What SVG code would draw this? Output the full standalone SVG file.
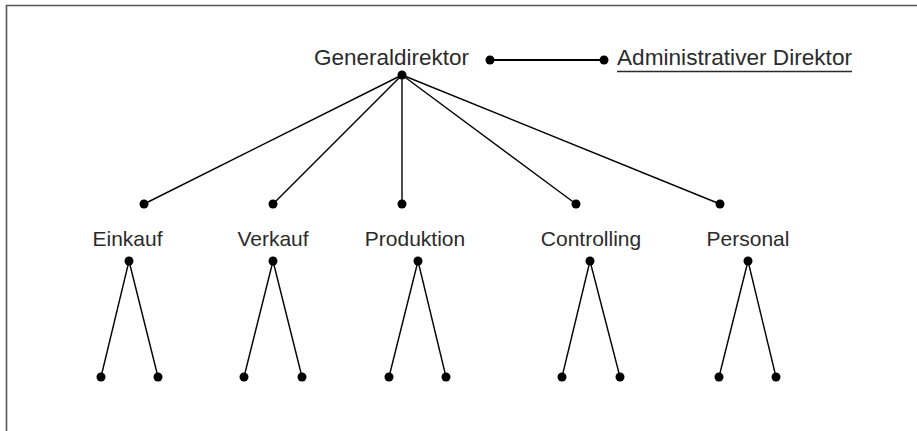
<svg xmlns="http://www.w3.org/2000/svg" width="917" height="431" viewBox="0 0 917 431">
<style>
.t{font-family:"Liberation Sans",Arial,sans-serif;font-size:22px;fill:#2b2b2b;text-anchor:middle}
.s{font-size:21px}
.c line{stroke:#000;stroke-width:1.4}
circle{fill:#000}
</style>
<rect width="917" height="431" fill="#fff"/>
<path d="M6.5 431V5.5H917" fill="none" stroke="#555" stroke-width="1.6"/>
<g id="connectors" class="c">
<line x1="490" y1="60" x2="604" y2="60" style="stroke-width:2"/>
<line x1="402" y1="75" x2="144" y2="204"/>
<line x1="402" y1="75" x2="273" y2="204"/>
<line x1="402" y1="75" x2="402" y2="204"/>
<line x1="402" y1="75" x2="576" y2="204"/>
<line x1="402" y1="75" x2="720" y2="204"/>
<line x1="129" y1="261" x2="101" y2="377"/>
<line x1="129" y1="261" x2="158" y2="377"/>
<line x1="273" y1="261" x2="244" y2="377"/>
<line x1="273" y1="261" x2="302" y2="377"/>
<line x1="418" y1="261" x2="389" y2="377"/>
<line x1="418" y1="261" x2="446" y2="377"/>
<line x1="590" y1="261" x2="562" y2="377"/>
<line x1="590" y1="261" x2="620" y2="377"/>
<line x1="748" y1="261" x2="719" y2="377"/>
<line x1="748" y1="261" x2="776" y2="377"/>
</g>
<g id="generaldirektor">
<text class="t" x="391.5" y="65" textLength="155" lengthAdjust="spacingAndGlyphs">Generaldirektor</text>
<circle cx="402" cy="75" r="4.5"/>
<circle cx="490" cy="60" r="4.5"/>
</g>
<g id="admin">
<circle cx="604" cy="60" r="4.5"/>
<text class="t" x="734.5" y="65" textLength="235" lengthAdjust="spacingAndGlyphs">Administrativer Direktor</text>
<line x1="617" y1="71.5" x2="852" y2="71.5" stroke="#2b2b2b" stroke-width="1.4"/>
</g>
<g id="einkauf">
<circle cx="144" cy="204" r="4.5"/>
<text class="t s" x="127.5" y="246">Einkauf</text>
<circle cx="129" cy="261" r="4.5"/>
<circle cx="101" cy="377" r="4.5"/>
<circle cx="158" cy="377" r="4.5"/>
</g>
<g id="verkauf">
<circle cx="273" cy="204" r="4.5"/>
<text class="t s" x="273" y="246">Verkauf</text>
<circle cx="273" cy="261" r="4.5"/>
<circle cx="244" cy="377" r="4.5"/>
<circle cx="302" cy="377" r="4.5"/>
</g>
<g id="produktion">
<circle cx="402" cy="204" r="4.5"/>
<text class="t s" x="415" y="246">Produktion</text>
<circle cx="418" cy="261" r="4.5"/>
<circle cx="389" cy="377" r="4.5"/>
<circle cx="446" cy="377" r="4.5"/>
</g>
<g id="controlling">
<circle cx="576" cy="204" r="4.5"/>
<text class="t s" x="591" y="246">Controlling</text>
<circle cx="590" cy="261" r="4.5"/>
<circle cx="562" cy="377" r="4.5"/>
<circle cx="620" cy="377" r="4.5"/>
</g>
<g id="personal">
<circle cx="720" cy="204" r="4.5"/>
<text class="t s" x="748" y="246">Personal</text>
<circle cx="748" cy="261" r="4.5"/>
<circle cx="719" cy="377" r="4.5"/>
<circle cx="776" cy="377" r="4.5"/>
</g>
</svg>
